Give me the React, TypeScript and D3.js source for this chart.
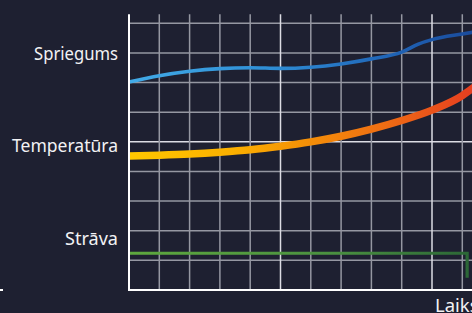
import React from "react";
import * as d3 from "d3";

const W = 472;
const H = 313;

// Series values in grid units (x: time ticks, y: level ticks)
const seriesNames = ["Spriegums", "Temperatūra", "Strāva"];
const voltageX = [0, 1, 2, 3, 4, 5, 6, 7, 8, 9, 9.55, 10, 11, 11.6];
const voltageY = [7.02, 7.23, 7.38, 7.47, 7.5, 7.48, 7.52, 7.63, 7.8, 8.03, 8.3, 8.45, 8.64, 8.74];
const tempX = [0, 1, 2, 3, 4, 5, 6, 7, 8, 9, 10, 11, 11.3, 11.6];
const tempY = [4.52, 4.55, 4.59, 4.65, 4.73, 4.85, 5.0, 5.19, 5.43, 5.72, 6.07, 6.56, 6.78, 6.99];
const currentX = [0, 11.16, 11.16];
const currentY = [1.24, 1.24, 0.41];
const labelY = [7.77, 4.67, 1.52];
const xGridTicks = [1, 2, 3, 4, 5, 6, 7, 8, 9, 10, 11];
const yGridTicks = [1, 2, 3, 4, 5, 6, 7, 8, 9];
const xAxisLabel = "Laiks";

export default function App() {
  const x0 = 129;
  const y0 = 290;
  const x = d3.scaleLinear().domain([0, 12]).range([x0, x0 + 30.3 * 12]);
  const y = d3.scaleLinear().domain([0, 10]).range([y0, y0 - 29.63 * 10]);
  const topY = y(9.31);

  const lineGen = (xs: number[], ys: number[], curve: any) =>
    d3
      .line<number>()
      .x((_, i) => x(xs[i]))
      .y((d) => y(d))
      .curve(curve)(ys) || "";

  const bright = new Set([5, 10]);
  const labelWidths = [84, 106, 53];

  return (
    <svg
      width={W}
      height={H}
      style={{ position: "absolute", left: 0, top: 0, display: "block" }}
    >
      <defs>
        <linearGradient id="gBlue" gradientUnits="userSpaceOnUse" x1={x0} x2={W} y1={0} y2={0}>
          <stop offset="0" stopColor="#42abe8" />
          <stop offset="0.4" stopColor="#2f8fd6" />
          <stop offset="0.75" stopColor="#2066b8" />
          <stop offset="1" stopColor="#1a4b9c" />
        </linearGradient>
        <linearGradient id="gTemp" gradientUnits="userSpaceOnUse" x1={x0} x2={W} y1={0} y2={0}>
          <stop offset="0" stopColor="#ffc800" />
          <stop offset="0.3" stopColor="#fbb000" />
          <stop offset="0.5" stopColor="#f49206" />
          <stop offset="0.75" stopColor="#ef6c14" />
          <stop offset="1" stopColor="#e63e20" />
        </linearGradient>
        <linearGradient id="gGreen" gradientUnits="userSpaceOnUse" x1={x0} x2={W} y1={0} y2={0}>
          <stop offset="0" stopColor="#5ea83e" />
          <stop offset="0.6" stopColor="#4a9040" />
          <stop offset="1" stopColor="#2b6636" />
        </linearGradient>
      </defs>
      <rect x={0} y={0} width={W} height={H} fill="#1e2031" />

      {/* grid */}
      {yGridTicks.map((t) => (
        <line
          key={"h" + t}
          x1={x0}
          x2={W}
          y1={y(t)}
          y2={y(t)}
          stroke={t === 5 ? "#dcdce4" : "#9597a2"}
          strokeWidth={1.5}
        />
      ))}
      {xGridTicks.map((t) => (
        <line
          key={"v" + t}
          x1={x(t)}
          x2={x(t)}
          y1={topY}
          y2={y0}
          stroke={bright.has(t) ? "#dcdce4" : "#9597a2"}
          strokeWidth={1.5}
        />
      ))}

      {/* series */}
      <path d={lineGen(currentX, currentY, d3.curveLinear)} fill="none" stroke="url(#gGreen)" strokeWidth={3.2} />
      <path d={lineGen(voltageX, voltageY, d3.curveMonotoneX)} fill="none" stroke="url(#gBlue)" strokeWidth={3.6} />
      <path d={lineGen(tempX, tempY, d3.curveMonotoneX)} fill="none" stroke="url(#gTemp)" strokeWidth={7.5} />

      {/* axes */}
      <line x1={x0} x2={x0} y1={topY} y2={y0 + 1} stroke="#ffffff" strokeWidth={2} />
      <line x1={x0} x2={W} y1={y0} y2={y0} stroke="#ffffff" strokeWidth={2} />
      <line x1={0} x2={3} y1={y0} y2={y0} stroke="#ffffff" strokeWidth={2} />

      {/* labels */}
      {seriesNames.map((n, i) => (
        <text
          key={n}
          x={118}
          y={y(labelY[i])}
          textAnchor="end"
          fill="#f2f2f4"
          fontFamily="'Noto Sans', 'Open Sans', sans-serif"
          fontSize={18.5}
          textLength={labelWidths[i]}
          lengthAdjust="spacingAndGlyphs"
        >
          {n}
        </text>
      ))}
      <text
        x={435}
        y={311.5}
        fill="#f2f2f4"
        fontFamily="'Noto Sans', 'Open Sans', sans-serif"
        fontSize={18.5}
      >
        {xAxisLabel}
      </text>
    </svg>
  );
}
